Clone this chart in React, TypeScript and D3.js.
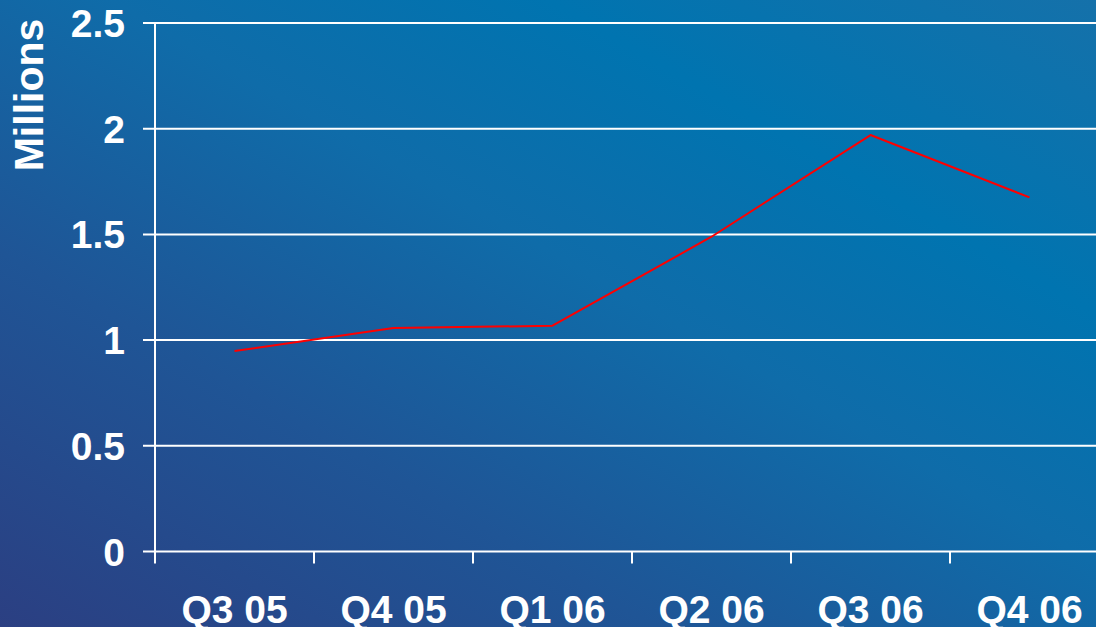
import React, { useEffect, useRef } from 'react';
import * as d3 from 'd3';

const quarters = ['Q3 05', 'Q4 05', 'Q1 06', 'Q2 06', 'Q3 06', 'Q4 06'];
const subscribers = [0.948, 1.057, 1.068, 1.489, 1.97, 1.675];
const yTicks = [0, 0.5, 1, 1.5, 2, 2.5];
const yTickLabels = ['0', '0.5', '1', '1.5', '2', '2.5'];
const yTitle = 'Millions';

const App: React.FC = () => {
  const svgRef = useRef<SVGSVGElement>(null);
  const width = 1096;
  const height = 627;
  const margin = { top: 23, right: -13, bottom: 75.5, left: 155 };

  useEffect(() => {
    if (!svgRef.current) return;
    const svg = d3.select(svgRef.current);
    svg.selectAll('*').remove();

    // fond dégradé
    const defs = svg.append('defs');
    const grad = defs.append('linearGradient')
      .attr('id', 'bg-grad')
      .attr('x1', 0).attr('y1', 1).attr('x2', 1).attr('y2', 0);
    grad.append('stop').attr('offset', '0%').attr('stop-color', '#2b3f82');
    grad.append('stop').attr('offset', '30%').attr('stop-color', '#1f5596');
    grad.append('stop').attr('offset', '55%').attr('stop-color', '#0f6ca9');
    grad.append('stop').attr('offset', '75%').attr('stop-color', '#0074b0');
    grad.append('stop').attr('offset', '100%').attr('stop-color', '#1571aa');

    svg.append('rect')
      .attr('width', width).attr('height', height)
      .attr('fill', 'url(#bg-grad)');

    const x = d3.scaleBand()
      .domain(quarters)
      .range([margin.left, width - margin.right])
      .paddingInner(0).paddingOuter(0);

    const y = d3.scaleLinear()
      .domain([0, 2.5])
      .range([height - margin.bottom, margin.top]);

    const font = '"Liberation Sans", Arial, sans-serif';

    // grille horizontale + graduations Y
    yTicks.forEach((t, i) => {
      svg.append('line')
        .attr('x1', margin.left - 12).attr('x2', width)
        .attr('y1', y(t)).attr('y2', y(t))
        .attr('stroke', '#ffffff').attr('stroke-width', 2);

      svg.append('text')
        .attr('x', 125)
        .attr('y', y(t))
        .attr('dy', '0.36em')
        .attr('text-anchor', 'end')
        .attr('fill', '#ffffff')
        .style('font-family', font)
        .style('font-weight', 'bold')
        .style('font-size', '39px')
        .text(yTickLabels[i]);
    });

    // axe Y
    svg.append('line')
      .attr('x1', margin.left).attr('x2', margin.left)
      .attr('y1', margin.top).attr('y2', y(0) + 12)
      .attr('stroke', '#ffffff').attr('stroke-width', 2);

    // graduations X
    quarters.forEach(q => {
      const bx = x(q)! + x.bandwidth();
      svg.append('line')
        .attr('x1', bx).attr('x2', bx)
        .attr('y1', y(0)).attr('y2', y(0) + 12)
        .attr('stroke', '#ffffff').attr('stroke-width', 2);

      svg.append('text')
        .attr('x', x(q)! + x.bandwidth() / 2)
        .attr('y', 623)
        .attr('text-anchor', 'middle')
        .attr('fill', '#ffffff')
        .style('font-family', font)
        .style('font-weight', 'bold')
        .style('font-size', '39px')
        .text(q);
    });

    // titre axe Y
    svg.append('text')
      .attr('transform', `translate(43, 95) rotate(-90)`)
      .attr('text-anchor', 'middle')
      .attr('fill', '#ffffff')
      .style('font-family', font)
      .style('font-weight', 'bold')
      .style('font-size', '41px')
      .text(yTitle);

    // courbe
    const line = d3.line<number>()
      .x((_, i) => x(quarters[i])! + x.bandwidth() / 2)
      .y(d => y(d));

    svg.append('path')
      .datum(subscribers)
      .attr('fill', 'none')
      .attr('stroke', '#ff0000')
      .attr('stroke-width', 2)
      .attr('stroke-linejoin', 'round')
      .attr('d', line);
  }, []);

  return (
    <svg
      ref={svgRef}
      width={width}
      height={height}
      style={{ position: 'absolute', left: 0, top: 0, display: 'block' }}
    />
  );
};

export default App;
